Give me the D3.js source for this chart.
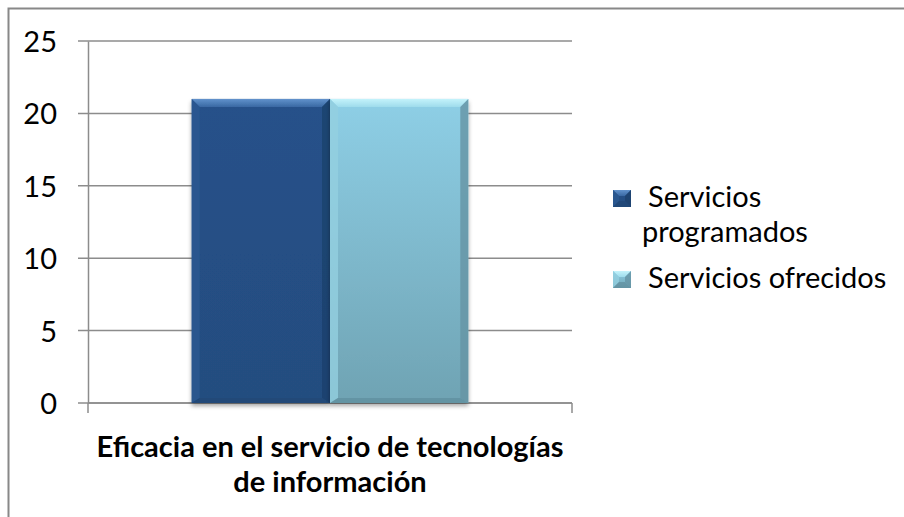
<!DOCTYPE html>
<html>
<head>
<meta charset="utf-8">
<script src="https://cdn.jsdelivr.net/npm/d3@7"></script>
<style>
  html, body { margin: 0; padding: 0; background: #fff; }
  svg text { font-family: Lato, "Open Sans", sans-serif; fill: #000; }
</style>
</head>
<body>
<div id="chart"></div>
<script>
// chart data
var categories = ["Eficacia en el servicio de tecnologías de información"];
var categoryLines = ["Eficacia en el servicio de tecnologías", "de información"];
var seriesNames = ["Servicios programados", "Servicios ofrecidos"];
var seriesValues = [21, 21];
var yTicks = [0, 5, 10, 15, 20, 25];

var width = 904, height = 517;
var plot = { left: 88, right: 572, top: 41, bottom: 403 };

// colours for the bevelled bars
var styles = [
    { main: ["#26518a", "#244d7f"], top: ["#6192cc", "#3a69a3"], left: "#2b5991", right: "#1d416d", bottom: "#1f4675" },
    { main: ["#8ecfe6", "#6fa3b3"], top: ["#c4f3fb", "#9fdcec"], left: "#93cfe0", right: "#6594a4", bottom: "#5f8d9c" }
];

var svg = d3.select("#chart")
    .append("svg")
    .attr("width", width)
    .attr("height", height);

var defs = svg.append("defs");

var shadow = defs.append("filter")
    .attr("id", "shadow")
    .attr("x", "-10%").attr("y", "-10%")
    .attr("width", "120%").attr("height", "120%");
shadow.append("feDropShadow")
    .attr("dx", 0).attr("dy", 3)
    .attr("stdDeviation", 2)
    .attr("flood-color", "#000")
    .attr("flood-opacity", 0.35);

styles.forEach(function (s, i) {
    var g1 = defs.append("linearGradient").attr("id", "main" + i)
        .attr("x1", 0).attr("y1", 0).attr("x2", 0).attr("y2", 1);
    g1.append("stop").attr("offset", "0%").attr("stop-color", s.main[0]);
    g1.append("stop").attr("offset", "100%").attr("stop-color", s.main[1]);
    var g2 = defs.append("linearGradient").attr("id", "top" + i)
        .attr("x1", 0).attr("y1", 0).attr("x2", 0).attr("y2", 1);
    g2.append("stop").attr("offset", "0%").attr("stop-color", s.top[0]);
    g2.append("stop").attr("offset", "100%").attr("stop-color", s.top[1]);
});

// outer border (only left and top are inside the picture)
svg.append("rect")
    .attr("x", 8.5).attr("y", 8.5)
    .attr("width", width + 20).attr("height", height + 20)
    .attr("fill", "none")
    .attr("stroke", "#888")
    .attr("stroke-width", 2);

var y = d3.scaleLinear().domain([0, 25]).range([plot.bottom, plot.top]);
var x = d3.scaleBand().domain(categories).range([plot.left, plot.right]).padding(0);

// Excel style gap width 150%: bar = band / 3.5
var barW = x.bandwidth() / 3.5;
var xs = d3.scaleBand().domain(seriesNames)
    .range([x(categories[0]) + barW * 0.75, x(categories[0]) + x.bandwidth() - barW * 0.75]);

// gridlines
svg.append("g").selectAll("line")
    .data(yTicks)
    .join("line")
    .attr("x1", plot.left - 10).attr("x2", plot.right)
    .attr("y1", function (d) { return y(d); })
    .attr("y2", function (d) { return y(d); })
    .attr("stroke", "#8c8c8c")
    .attr("stroke-width", 1.5);

// y axis
var yAxis = svg.append("g")
    .attr("transform", "translate(" + plot.left + ",0)")
    .call(d3.axisLeft(y).tickValues(yTicks).tickSize(0).tickPadding(31));
yAxis.select(".domain").attr("stroke", "#8c8c8c").attr("stroke-width", 1.5);
yAxis.selectAll("text")
    .style("font-family", "Lato, 'Open Sans', sans-serif")
    .style("font-size", "29px")
    .attr("dy", "0.36em");

// x axis
svg.append("line")
    .attr("x1", plot.left).attr("x2", plot.right)
    .attr("y1", plot.bottom).attr("y2", plot.bottom)
    .attr("stroke", "#8c8c8c").attr("stroke-width", 1.5);
svg.append("g").selectAll("line")
    .data([plot.left, plot.right])
    .join("line")
    .attr("x1", function (d) { return d; }).attr("x2", function (d) { return d; })
    .attr("y1", plot.bottom).attr("y2", plot.bottom + 10)
    .attr("stroke", "#8c8c8c").attr("stroke-width", 1.5);

// bevelled rectangle
function bevel(g, x0, y0, w, h, b, bb, i) {
    var s = styles[i];
    var x1 = x0 + w, y1 = y0 + h;
    g.append("rect").attr("x", x0).attr("y", y0).attr("width", w).attr("height", h)
        .attr("fill", "url(#main" + i + ")");
    g.append("polygon")
        .attr("points", [[x0, y0], [x1, y0], [x1 - b, y0 + b], [x0 + b, y0 + b]].join(" "))
        .attr("fill", "url(#top" + i + ")");
    g.append("polygon")
        .attr("points", [[x0, y0], [x0 + b, y0 + b], [x0 + b, y1 - bb], [x0, y1]].join(" "))
        .attr("fill", s.left).attr("opacity", 0.8);
    g.append("polygon")
        .attr("points", [[x1, y0], [x1 - b, y0 + b], [x1 - b, y1 - bb], [x1, y1]].join(" "))
        .attr("fill", s.right).attr("opacity", 0.8);
    g.append("polygon")
        .attr("points", [[x0, y1], [x0 + b, y1 - bb], [x1 - b, y1 - bb], [x1, y1]].join(" "))
        .attr("fill", s.bottom).attr("opacity", 0.7);
}

// bars
seriesNames.forEach(function (name, i) {
    var g = svg.append("g").attr("filter", "url(#shadow)");
    var bx = xs(name), by = y(seriesValues[i]);
    bevel(g, bx, by, xs.bandwidth(), y(0) - by, 8, 5, i);
});

// category label
var cx = x(categories[0]) + x.bandwidth() / 2;
svg.append("text")
    .attr("text-anchor", "middle")
    .style("font-size", "29px")
    .style("font-weight", "bold")
    .selectAll("tspan")
    .data(categoryLines)
    .join("tspan")
    .attr("x", cx)
    .attr("y", function (d, i) { return 457 + i * 35; })
    .text(function (d) { return d; });

// legend
var legendRows = [
    { lines: ["Servicios", "programados"], y: 207 },
    { lines: ["Servicios ofrecidos"], y: 288 }
];
legendRows.forEach(function (row, i) {
    var g = svg.append("g");
    bevel(g, 613, row.y - 17, 18, 17, 6, 6, i);
    row.lines.forEach(function (t, j) {
        svg.append("text")
            .attr("x", j === 0 ? 648 : 642)
            .attr("y", row.y + j * 35)
            .style("font-size", "29px")
            .text(t);
    });
});
</script>
</body>
</html>
